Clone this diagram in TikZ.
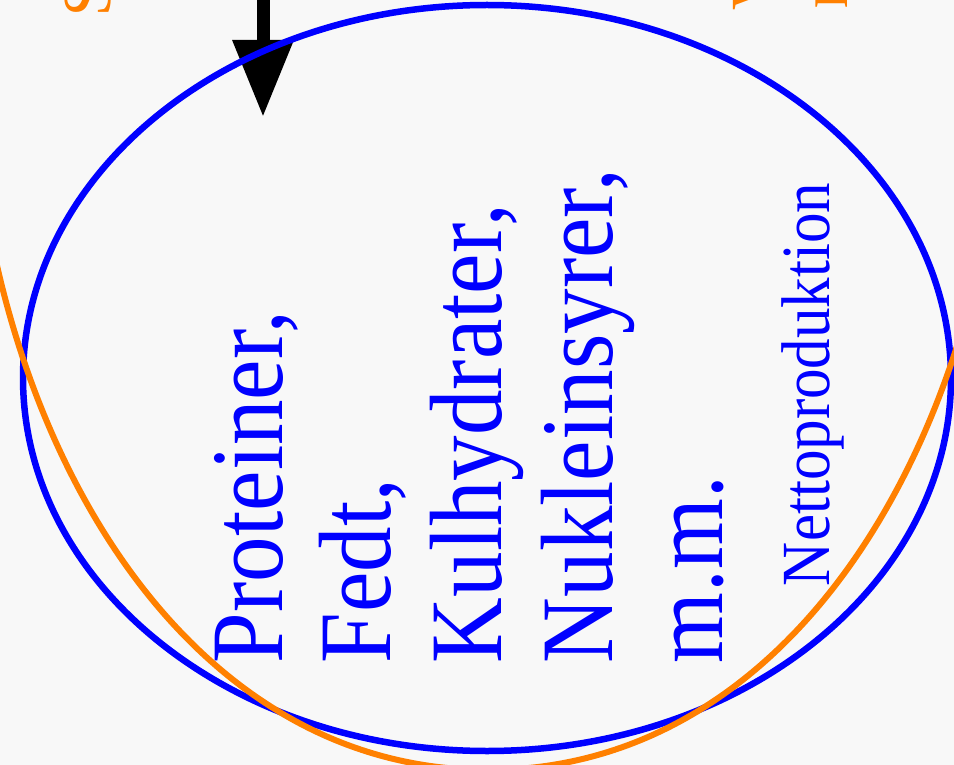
\documentclass[tikz,border=0pt]{standalone}
\usepackage{fontspec}
\setmainfont{Liberation Serif}
\usepackage{graphicx}
\usetikzlibrary{arrows.meta}
\definecolor{bgc}{RGB}{248,248,248}
\definecolor{cblue}{RGB}{0,0,255}
\definecolor{corange}{RGB}{255,128,0}
\newcommand{\tallglyphs}[1]{\scalebox{1}[1.13]{#1}}
\tikzset{
  vtext/.style={rotate=90, anchor=base west, inner sep=0pt, outer sep=0pt},
  bigtext/.style={vtext, text=cblue, font=\fontsize{91}{110}\selectfont},
  smalltext/.style={vtext, text=cblue, font=\fontsize{61}{70}\selectfont},
  orangetext/.style={vtext, text=corange, font=\fontsize{61}{70}\selectfont},
  cellline/.style={draw=cblue, line width=6.5pt},
  energyline/.style={draw=corange, line width=6pt},
  inarrow/.style={draw=black, line width=13pt, -{Triangle[width=58pt,length=77pt]}},
}
\begin{document}
\begin{tikzpicture}[x=1pt,y=-1pt]
\fill[bgc] (0,0) rectangle (954,765);
\useasboundingbox (0,0) rectangle (954,765);
\clip (0,0) rectangle (954,765);

% incoming arrow
\coordinate (arrowfrom) at (263,-30);
\coordinate (arrowto) at (263,117);
\draw[inarrow] (arrowfrom) -- (arrowto);

% cell
\coordinate (cellc) at (487,378);
\draw[cellline] (cellc) ellipse [x radius=464pt, y radius=373pt];

% orange curve
\coordinate (eleft) at (-6,252);
\coordinate (ebottom) at (488,770);
\coordinate (eright) at (982,252);
\draw[energyline] (eleft) .. controls (54,532) and (228,770) .. (ebottom)
  .. controls (748,770) and (922,532) .. (eright);

% texts
\node[bigtext] (l1) at (282,663) {\tallglyphs{Proteiner,}};
\node[bigtext] (l2) at (390,663) {\tallglyphs{Fedt,}};
\node[bigtext] (l3) at (501,663) {\tallglyphs{Kulhydrater,}};
\node[bigtext] (l4) at (612,663) {\tallglyphs{Nukleinsyrer,}};
\node[bigtext] (l5) at (722,663) {\tallglyphs{m.m.}};
\node[smalltext] (netto) at (829,586) {\tallglyphs{Nettoproduktion}};

% orange text fragments at the top edge
\node[orangetext] (o1) at (110,17) {\tallglyphs{S}};
\node[orangetext] (o2) at (778,11) {\tallglyphs{V}};
\node[orangetext] (o3) at (847,9) {\tallglyphs{r}};
\end{tikzpicture}
\end{document}
